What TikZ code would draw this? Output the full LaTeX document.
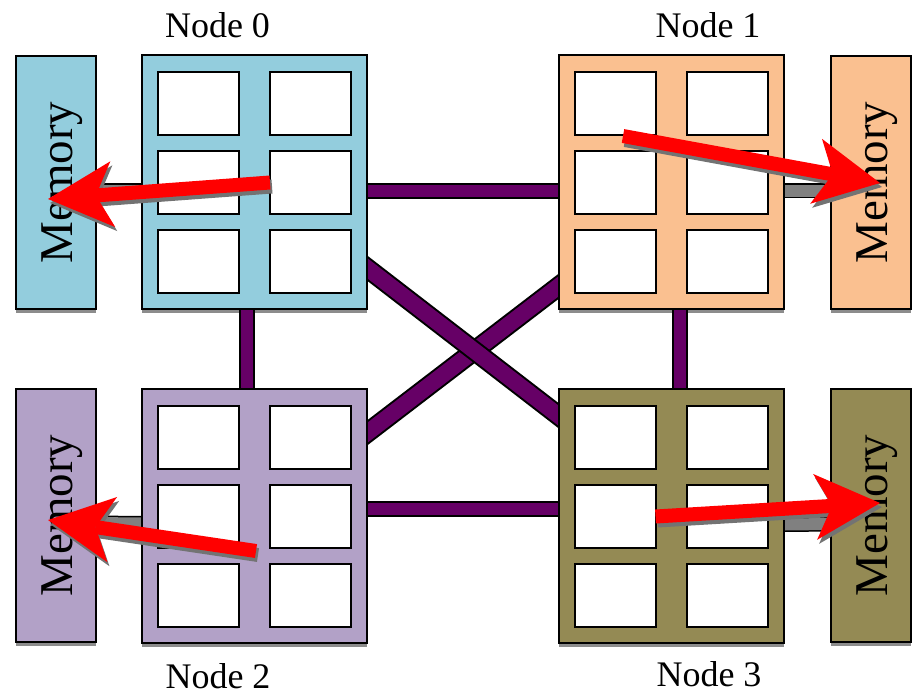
\documentclass[tikz,border=0pt]{standalone}
\usepackage{fontspec}
\setmainfont{Liberation Serif}
\usetikzlibrary{arrows.meta,backgrounds}
\definecolor{nodeA}{HTML}{93CDDD}
\definecolor{nodeB}{HTML}{FAC090}
\definecolor{nodeC}{HTML}{B2A1C7}
\definecolor{nodeD}{HTML}{948A54}
\definecolor{linkpurple}{HTML}{660066}
\definecolor{busgray}{HTML}{808080}
\definecolor{dropshade}{HTML}{8C8C8C}
\begin{document}
\begin{tikzpicture}[x=1pt,y=-1pt,
  cpubox/.style={draw=black, line width=2pt, inner sep=0pt, outer sep=0pt,
    minimum width=225pt, minimum height=254pt, anchor=north west},
  membox/.style={draw=black, line width=2pt, inner sep=0pt, outer sep=0pt,
    minimum width=80pt, minimum height=253pt, anchor=north west},
  cell/.style={draw=black, fill=white, line width=2pt, inner sep=0pt, outer sep=0pt,
    minimum width=80.5pt, minimum height=63pt, anchor=north west},
  nodelabel/.style={font=\fontsize{36}{40}\selectfont, anchor=base, inner sep=0pt},
  memlabel/.style={font=\fontsize{47}{50}\selectfont, anchor=base, rotate=90, inner sep=0pt},
  netlink/.style={line width=2pt, draw=black, double=linkpurple, double distance=12pt},
  crosslink/.style={line width=2pt, draw=black, double=linkpurple, double distance=16pt,
    shorten <=-12pt, shorten >=-12pt},
  membus/.style={line width=1.5pt, draw=black, double=busgray, double distance=12pt,
    shorten <=-3pt, shorten >=-3pt},
  access/.style={line width=14pt, draw=red,
    -{Stealth[length=65pt, width=66pt, inset=17pt, line width=0pt]}},
  accessshadow/.style={access, draw=black!55, transform canvas={shift={(2pt,-4pt)}}},
]
\useasboundingbox (0,0) rectangle (912,694);

% processor packages
\node[cpubox, fill=nodeA] (n0) at (142,55) {};
\node[cpubox, fill=nodeB] (n1) at (559,55) {};
\node[cpubox, fill=nodeC] (n2) at (142,389) {};
\node[cpubox, fill=nodeD] (n3) at (559,389) {};

% local memories
\node[membox, fill=nodeA] (m0) at (16,56) {};
\node[membox, fill=nodeB] (m1) at (831,56) {};
\node[membox, fill=nodeC] (m2) at (16,389) {};
\node[membox, fill=nodeD] (m3) at (831,389) {};

% six cores in every package
\foreach \k/\bx/\by in {0/142/55, 1/559/55, 2/142/389, 3/559/389} {
  \foreach \col/\dx in {1/16, 2/128} {
    \foreach \row/\dy in {1/17, 2/96, 3/175} {
      \node[cell] (n\k c\col\row) at (\bx+\dx, \by+\dy) {};
    }
  }
}

\begin{scope}[on background layer]
  % drop shadows under the boxes
  \foreach \b in {n0,n1,n2,n3,m0,m1,m2,m3} {
    \fill[dropshade] (\b.south west) rectangle ([yshift=-4pt]\b.south east);
  }
  % interconnect between the packages
  \draw[netlink] ([yshift=-8.5pt]n0.east) -- ([yshift=-8.5pt]n1.west);
  \draw[netlink] ([yshift=7.5pt]n2.east) -- ([yshift=7.5pt]n3.west);
  \draw[netlink] ([xshift=-8pt]n0.south) -- ([xshift=-8pt]n2.north);
  \draw[netlink] ([xshift=8pt]n1.south) -- ([xshift=8pt]n3.north);
  \draw[crosslink] ([yshift=83pt]n2.east) -- ([yshift=-104pt]n1.west);
  \draw[crosslink] ([yshift=-86pt]n0.east) -- ([yshift=100pt]n3.west);
  % memory buses
  \draw[membus] ([yshift=-8pt]m0.east) -- ([yshift=-8.5pt]n0.west);
  \draw[membus] ([yshift=-8.5pt]n1.east) -- ([yshift=-8pt]m1.west);
  \draw[membus] ([yshift=-7.5pt]m2.east) -- ([yshift=-7.5pt]n2.west);
  \draw[membus] ([yshift=-8.5pt]n3.east) -- ([yshift=-8.5pt]m3.west);
\end{scope}

% labels
\node[nodelabel] (l0) at (217.5,37) {Node 0};
\node[nodelabel] (l1) at (708,37) {Node 1};
\node[nodelabel] (l2) at (218,688) {Node 2};
\node[nodelabel] (l3) at (709,686) {Node 3};
\foreach \m in {m0,m2} { \node[memlabel] at ([xshift=16.5pt]\m.center) {Memory}; }
\foreach \m in {m1,m3} { \node[memlabel] at ([xshift=16.5pt]\m.center) {Memory}; }

% memory accesses
\coordinate (t0) at (n0c22.west);
\coordinate (h0) at (48,199);
\coordinate (t1) at (623,136);
\coordinate (h1) at (880,183);
\coordinate (t2) at (256,551);
\coordinate (h2) at (48,520);
\coordinate (t3) at (n3c12.east);
\coordinate (h3) at (880,503);
\foreach \i in {0,1,2,3} {
  \draw[accessshadow] (t\i) -- (h\i);
  \draw[access] (t\i) -- (h\i);
}
\end{tikzpicture}
\end{document}
